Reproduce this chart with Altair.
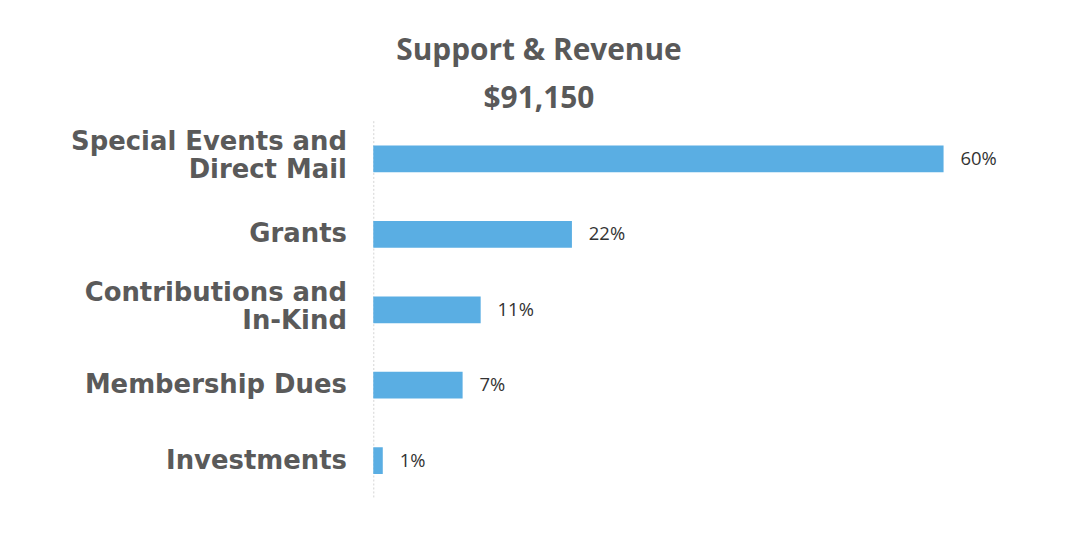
import altair as alt
import pandas as pd

categories = ["Special Events and|Direct Mail", "Grants", "Contributions and|In-Kind",
              "Membership Dues", "Investments"]
bar_values = [60.0, 20.9, 11.3, 9.4, 1.0]
value_labels = ["60%", "22%", "11%", "7%", "1%"]

df = pd.DataFrame({"cat": categories, "val": bar_values, "lab": value_labels})

y_enc = alt.Y("cat:N", sort=categories, title=None,
              scale=alt.Scale(paddingInner=0.645, paddingOuter=0.33),
              axis=alt.Axis(labelExpr="split(datum.label, '|')", labelFont="DejaVu Sans",
                            labelFontWeight="bold", labelFontSize=26, labelColor="#5a5a5a",
                            labelLineHeight=28, labelPadding=27, labelLimit=400, ticks=False,
                            labelOffset={"condition": {"test": "indexof(datum.value, '|') >= 0",
                                                       "value": -17}, "value": 0},
                            domainColor="#d4d4d4", domainDash=[2, 2], domainWidth=1))
x_enc = alt.X("val:Q", scale=alt.Scale(domain=[0, 60], nice=False, zero=True), axis=None)

bars = alt.Chart(df).mark_bar(color="#5aaee3").encode(x=x_enc, y=y_enc)
texts = alt.Chart(df).mark_text(align="left", dx=17, font="Open Sans", fontSize=18.5,
                                color="#333333").encode(x=x_enc, y=alt.Y("cat:N", sort=categories), text="lab:N")

chart = alt.layer(bars, texts).properties(
    width=573, height=380,
    title=alt.TitleParams(text=["Support & Revenue", "$91,150"], anchor="middle", dx=-120,
                          font="Open Sans", fontSize=30, fontWeight="bold", color="#595959",
                          lineHeight=48, offset=7),
    autosize=alt.AutoSizeParams(type="none"),
    padding={"left": 367, "top": 112, "right": 120, "bottom": 30},
).configure_view(strokeWidth=0)

chart.save("out.html", embed_options={"renderer": "svg", "actions": False})
